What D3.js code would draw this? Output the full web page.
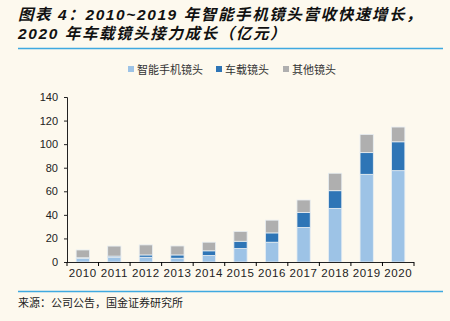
<!DOCTYPE html>
<html>
<head>
<meta charset="utf-8">
<script src="https://cdn.jsdelivr.net/npm/d3@7"></script>
<style>
  body { margin: 0; background: #fdf9ee; }
  svg { display: block; }
</style>
</head>
<body>
<div id="chart"></div>
<script>
// chart values (亿元)
var years = ["2010", "2011", "2012", "2013", "2014", "2015", "2016", "2017", "2018", "2019", "2020"];
var phoneLens = [3, 4, 4, 3.2, 5.5, 11.4, 16.8, 29.3, 45.5, 74.4, 77.5];
var carLens = [0.6, 1, 2, 2.8, 4, 6.2, 7.9, 12.8, 15, 18.4, 24.5];
var otherLens = [6.6, 8.5, 8.5, 7.6, 7.3, 8.3, 10.8, 10.5, 14.8, 15.4, 12.5];
var seriesNames = ["智能手机镜头", "车载镜头", "其他镜头"];
var seriesColors = ["#9dc3e6", "#2e75b6", "#afafaf"];
var yTicks = [0, 20, 40, 60, 80, 100, 120, 140];

var svgWidth = 450;
var svgHeight = 321;

var margin = { top: 97, left: 67, right: 36, bottom: 59 };
var width = svgWidth - margin.left - margin.right;
var height = svgHeight - margin.top - margin.bottom;

var svg = d3.select("#chart").append("svg")
  .attr("width", svgWidth)
  .attr("height", svgHeight);

svg.append("rect")
  .attr("width", svgWidth)
  .attr("height", svgHeight)
  .attr("fill", "#fdf9ee");

// title
var titleFont = "'Liberation Sans', 'Noto Sans CJK SC', sans-serif";
svg.append("text")
  .attr("x", 18).attr("y", 20)
  .attr("font-family", titleFont)
  .attr("font-size", 15.5)
  .attr("font-weight", "bold")
  .attr("font-style", "italic")
  .attr("letter-spacing", "1.6px")
  .attr("fill", "#111")
  .text("图表 4：2010~2019 年智能手机镜头营收快速增长，");
svg.append("text")
  .attr("x", 18).attr("y", 39)
  .attr("font-family", titleFont)
  .attr("font-size", 15.5)
  .attr("font-weight", "bold")
  .attr("font-style", "italic")
  .attr("letter-spacing", "1.6px")
  .attr("fill", "#111")
  .text("2020 年车载镜头接力成长（亿元）");

svg.append("line")
  .attr("x1", 18).attr("x2", 443)
  .attr("y1", 48.5).attr("y2", 48.5)
  .attr("stroke", "#3fa9e0").attr("stroke-width", 1.5);

svg.append("line")
  .attr("x1", 18).attr("x2", 443)
  .attr("y1", 291.5).attr("y2", 291.5)
  .attr("stroke", "#3fa9e0").attr("stroke-width", 1.5);

svg.append("text")
  .attr("x", 18).attr("y", 307)
  .attr("font-family", "'Noto Sans CJK SC', sans-serif")
  .attr("font-size", 11)
  .attr("fill", "#222")
  .text("来源：公司公告，国金证券研究所");

// legend
var legendX = [128, 216, 283];
var legend = svg.append("g").attr("font-family", "'Noto Sans CJK SC', sans-serif");
seriesNames.forEach(function(name, i) {
  legend.append("rect")
    .attr("x", legendX[i]).attr("y", 66)
    .attr("width", 6).attr("height", 6)
    .attr("fill", seriesColors[i]);
  legend.append("text")
    .attr("x", legendX[i] + 9).attr("y", 73.5)
    .attr("font-size", 11)
    .attr("fill", "#333")
    .text(name);
});

var chartGroup = svg.append("g")
  .attr("transform", `translate(${margin.left}, ${margin.top})`);

var xScale = d3.scaleBand()
  .domain(years)
  .range([0, width])
  .paddingInner(0.58)
  .paddingOuter(0.29);

var yScale = d3.scaleLinear()
  .domain([0, 140])
  .range([height, 0]);

// stacked data
var table = years.map(function(y, i) {
  return { year: y, phone: phoneLens[i], car: carLens[i], other: otherLens[i] };
});
var stack = d3.stack().keys(["phone", "car", "other"]);
var layers = stack(table);

chartGroup.selectAll("g.layer")
  .data(layers)
  .enter()
  .append("g")
  .attr("class", "layer")
  .attr("fill", function(d, i) { return seriesColors[i]; })
  .selectAll("rect")
  .data(function(d) { return d; })
  .enter()
  .append("rect")
  .attr("x", d => xScale(d.data.year))
  .attr("y", d => yScale(d[1]))
  .attr("width", xScale.bandwidth())
  .attr("height", d => yScale(d[0]) - yScale(d[1]))
  .attr("stroke", "#e8eef2")
  .attr("stroke-width", 0.8);

// axes
var leftAxis = d3.axisLeft(yScale).tickValues(yTicks).tickSize(3).tickPadding(6);
var xStep = xScale.step();
var bottomAxis = d3.axisBottom(xScale).tickSize(0).tickPadding(7);

var yAxisG = chartGroup.append("g").call(leftAxis);
yAxisG.select(".domain").attr("d", `M-3,0.5H0.5V${height}`);
yAxisG.selectAll("text")
  .attr("font-family", "'Liberation Sans', Arial, sans-serif")
  .attr("font-size", 11)
  .attr("fill", "#222");

var xAxisG = chartGroup.append("g")
  .attr("transform", `translate(0, ${height})`)
  .call(bottomAxis);
xAxisG.select(".domain").attr("d", `M0,0.5H${width}`);
xAxisG.selectAll("text")
  .attr("font-family", "'Liberation Sans', Arial, sans-serif")
  .attr("font-size", 11.5)
  .attr("letter-spacing", "0.6px")
  .attr("fill", "#222");

// category separators on x axis
chartGroup.append("g")
  .selectAll("line")
  .data(d3.range(years.length + 1))
  .enter()
  .append("line")
  .attr("x1", d => d * xStep)
  .attr("x2", d => d * xStep)
  .attr("y1", height)
  .attr("y2", height + 4)
  .attr("stroke", "#000");

chartGroup.selectAll(".domain, .tick line").attr("stroke", "#222");
</script>
</body>
</html>
